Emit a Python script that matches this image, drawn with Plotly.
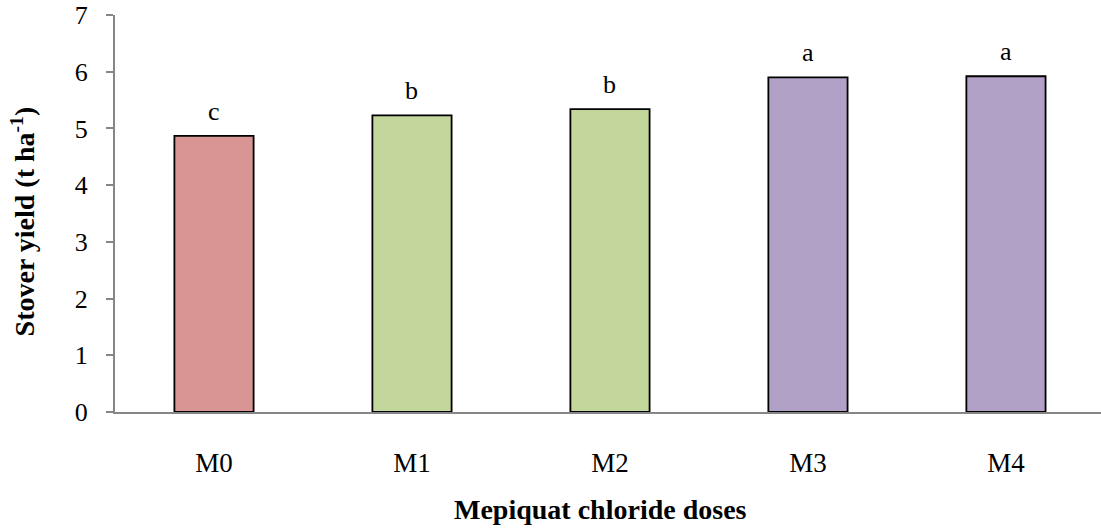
import plotly.graph_objects as go

# Stover yield by mepiquat chloride dose
doses = ["M0", "M1", "M2", "M3", "M4"]
stover_yield = [4.87, 5.23, 5.34, 5.90, 5.92]
groups = ["c", "b", "b", "a", "a"]
bar_colors = ["#D99594", "#C3D69B", "#C3D69B", "#B2A1C7", "#B2A1C7"]
y_ticks = [0, 1, 2, 3, 4, 5, 6, 7]

serif = "Liberation Serif"
axis_gray = "#868686"

fig = go.Figure(
    go.Bar(
        x=doses,
        y=stover_yield,
        width=0.4,
        marker=dict(color=bar_colors, line=dict(color="black", width=1.8)),
        showlegend=False,
        hoverinfo="skip",
    )
)

# significance letters above each bar
for d, v, g in zip(doses, stover_yield, groups):
    fig.add_annotation(
        x=d, y=v, text=g, showarrow=False,
        yanchor="bottom", yshift=8,
        font=dict(family=serif, size=26, color="black"),
    )

# axis titles
fig.add_annotation(
    xref="paper", yref="paper", x=0.5, xshift=-8, y=0, yshift=-97,
    text="<b>Mepiquat chloride doses</b>", showarrow=False,
    xanchor="center", yanchor="middle",
    font=dict(family=serif, size=28, color="black"),
)
fig.add_annotation(
    xref="paper", yref="paper", x=0, xshift=-92, y=0.48,
    text="<b>Stover yield (t ha<sup>-1</sup>)</b>", showarrow=False,
    textangle=-90, xanchor="center", yanchor="middle",
    font=dict(family=serif, size=28, color="black"),
)

fig.update_layout(
    width=1101,
    height=530,
    margin=dict(l=115, r=0, t=15, b=118),
    paper_bgcolor="white",
    plot_bgcolor="white",
    font=dict(family=serif, color="black"),
    xaxis=dict(
        range=[-0.5, 4.48],
        showline=True, linecolor=axis_gray, linewidth=2,
        ticks="", showgrid=False, zeroline=False,
        tickfont=dict(family=serif, size=27, color="black"),
        ticklabelstandoff=26,
        fixedrange=True,
    ),
    yaxis=dict(
        range=[0, 7],
        tickvals=y_ticks,
        showline=True, linecolor=axis_gray, linewidth=2,
        ticks="outside", ticklen=7, tickcolor=axis_gray, tickwidth=1.5,
        showgrid=False, zeroline=False,
        tickfont=dict(family=serif, size=26, color="black"),
        ticklabelstandoff=13,
        fixedrange=True,
    ),
)

fig.write_html("out.html")
